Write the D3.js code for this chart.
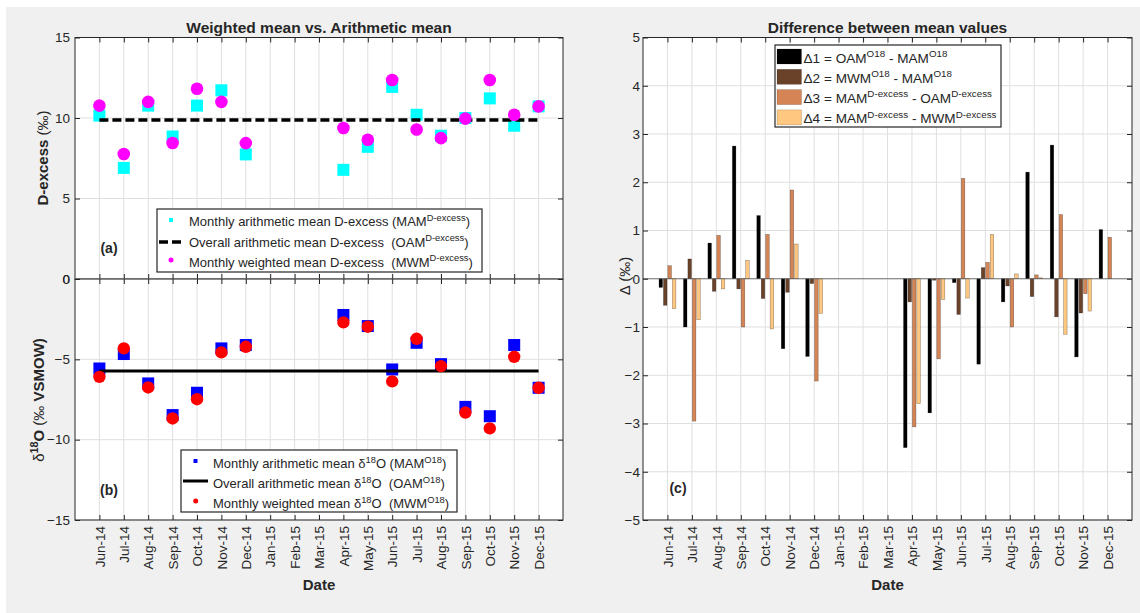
<!DOCTYPE html>
<html lang="en">
<head>
<meta charset="utf-8">
<title>Weighted mean vs. Arithmetic mean</title>
<script src="https://d3js.org/d3.v7.min.js"></script>
<style>
  body { margin: 0; background: #fff; }
  text { font-family: "Liberation Sans", Arial, Helvetica, sans-serif; fill: #262626; }
</style>
</head>
<body>
<script>
// month categories (Jan-Mar 2015 have no samples)
var months = ["Jun-14","Jul-14","Aug-14","Sep-14","Oct-14","Nov-14","Dec-14","Jan-15","Feb-15","Mar-15",
              "Apr-15","May-15","Jun-15","Jul-15","Aug-15","Sep-15","Oct-15","Nov-15","Dec-15"];

// (a) D-excess
var mamDex = [10.15, 6.9, 10.77, 8.85, 10.77, 11.72, 7.74, null, null, null, 6.78, 8.21, 11.93, 10.2, 8.9, 10.0, 11.22, 9.52, 10.72];
var mwmDex = [10.77, 7.76, 11.0, 8.45, 11.82, 11.0, 8.44, null, null, null, 9.38, 8.65, 12.36, 9.29, 8.75, 9.96, 12.36, 10.2, 10.72];
var oamDex = 9.87;

// (b) d18O
var mamO18 = [-5.57, -4.67, -6.5, -8.47, -7.08, -4.32, -4.11, null, null, null, -2.24, -2.93, -5.63, -3.97, -5.3, -7.96, -8.54, -4.11, -6.77];
var mwmO18 = [-6.09, -4.32, -6.75, -8.68, -7.48, -4.57, -4.22, null, null, null, -2.7, -2.97, -6.37, -3.72, -5.42, -8.31, -9.3, -4.84, -6.77];
var oamO18 = -5.73;

// (c) differences
var d1 = [-0.18, -1.0, 0.74, 2.75, 1.31, -1.45, -1.61, null, null, null, -3.5, -2.78, -0.08, -1.77, -0.48, 2.21, 2.77, -1.62, 1.02];
var d2 = [-0.55, 0.41, -0.26, -0.21, -0.41, -0.28, -0.1, null, null, null, -0.48, -0.03, -0.74, 0.23, -0.15, -0.37, -0.79, -0.71, 0];
var d3v = [0.27, -2.95, 0.9, -1.0, 0.92, 1.84, -2.12, null, null, null, -3.07, -1.66, 2.08, 0.34, -1.0, 0.08, 1.33, -0.31, 0.86];
var d4 = [-0.62, -0.85, -0.21, 0.38, -1.04, 0.72, -0.72, null, null, null, -2.59, -0.43, -0.4, 0.92, 0.1, 0.02, -1.15, -0.67, 0];
var deltas = [d1, d2, d3v, d4];
var copper = ["#000000", "#6a422a", "#d58555", "#ffc77f"];

var ticksA = [0, 5, 10, 15];
var ticksB = [-15, -10, -5, 0];
var ticksC = [-5, -4, -3, -2, -1, 0, 1, 2, 3, 4, 5];

var W = 1140, H = 613;
var ink = "#262626", gridCol = "#dfdfdf";

var svg = d3.select("body").append("svg").attr("width", W).attr("height", H);
svg.append("rect").attr("x", 6).attr("y", 7).attr("width", W - 6).attr("height", H - 7).attr("fill", "#f0f0f0");

// text with superscripts: parts = [[text, kind]] kind: n normal, b bold, ^ superscript
function rich(g, x, y, parts, size, anchor, rotate) {
  var t = g.append("text").attr("x", x).attr("y", y).attr("font-size", size)
    .attr("text-anchor", anchor || "start").style("white-space", "pre");
  if (rotate) t.attr("transform", "rotate(-90," + x + "," + y + ")");
  var up = 0;
  parts.forEach(function (p) {
    var sup = p[1].indexOf("^") >= 0;
    var dy = sup ? -0.42 * size : 0;
    var ts = t.append("tspan").text(p[0]).attr("dy", dy - up);
    up = dy;
    if (sup) ts.attr("font-size", size * 0.72);
    ts.attr("font-weight", p[1].indexOf("b") >= 0 ? "bold" : "normal");
  });
  return t;
}

var xL = d3.scaleLinear().domain([-1, months.length]).range([75, 563]);
var xR = d3.scaleLinear().domain([-1, months.length]).range([643, 1132]);
var yA = d3.scaleLinear().domain([0, 15]).range([279, 37.5]);
var yB = d3.scaleLinear().domain([-15, 0]).range([520, 279]);
var yC = d3.scaleLinear().domain([-5, 5]).range([520, 37.5]);
var idx = d3.range(months.length);

function panel(x, y, yt) {
  var g = svg.append("g");
  var x0 = x.range()[0], x1 = x.range()[1], y0 = y.range()[1], y1 = y.range()[0];
  g.append("rect").attr("x", x0).attr("y", y0).attr("width", x1 - x0).attr("height", y1 - y0).attr("fill", "#fff");
  g.selectAll(".gx").data(idx).enter().append("line")
    .attr("x1", function (d) { return x(d); }).attr("x2", function (d) { return x(d); })
    .attr("y1", y0).attr("y2", y1).attr("stroke", gridCol);
  g.selectAll(".gy").data(yt).enter().append("line")
    .attr("y1", function (d) { return y(d); }).attr("y2", function (d) { return y(d); })
    .attr("x1", x0).attr("x2", x1).attr("stroke", gridCol);
  return g;
}

function frame(x, y, yt, fmtX, tickEnd) {
  var g = svg.append("g");
  var x0 = x.range()[0], x1 = x.range()[1], y0 = y.range()[1], y1 = y.range()[0];
  var ax = g.append("g").attr("transform", "translate(0," + y1 + ")")
    .call(d3.axisBottom(x).tickValues(idx).tickSize(-5).tickSizeOuter(0)
      .tickFormat(function (i) { return fmtX ? months[i] : ""; }));
  ax.selectAll("text").attr("transform", "rotate(-90)").attr("x", -6).attr("y", 0)
    .attr("dy", "0.35em").attr("text-anchor", "end").attr("font-size", 13.5).attr("fill", ink);
  g.append("g").attr("transform", "translate(0," + y0 + ")")
    .call(d3.axisTop(x).tickValues(idx).tickSize(-5).tickSizeOuter(0).tickFormat(""));
  var ay = g.append("g").attr("transform", "translate(" + x0 + ",0)")
    .call(d3.axisLeft(y).tickValues(yt).tickSize(-5).tickSizeOuter(0).tickPadding(tickEnd));
  ay.selectAll("text").attr("font-size", 13.5).attr("fill", ink);
  g.append("g").attr("transform", "translate(" + x1 + ",0)")
    .call(d3.axisRight(y).tickValues(yt).tickSize(-5).tickSizeOuter(0).tickFormat(""));
  g.selectAll(".domain").remove();
  g.selectAll(".tick line").attr("stroke", ink);
  g.selectAll("text").attr("font-family", null);
  g.append("rect").attr("x", x0).attr("y", y0).attr("width", x1 - x0).attr("height", y1 - y0)
    .attr("fill", "none").attr("stroke", ink).attr("stroke-width", 1);
}

// ---- (a) D-excess
var gA = panel(xL, yA, ticksA);
gA.selectAll(".sq").data(idx.filter(function (i) { return mamDex[i] != null; })).enter().append("rect")
  .attr("x", function (i) { return xL(i) - 6; }).attr("y", function (i) { return yA(mamDex[i]) - 6; })
  .attr("width", 12).attr("height", 12).attr("fill", "#00ffff");
gA.append("line").attr("x1", xL(0)).attr("x2", xL(months.length - 1))
  .attr("y1", yA(oamDex)).attr("y2", yA(oamDex))
  .attr("stroke", "#000").attr("stroke-width", 3.5).attr("stroke-dasharray", "9,4");
gA.selectAll(".ci").data(idx.filter(function (i) { return mwmDex[i] != null; })).enter().append("circle")
  .attr("cx", function (i) { return xL(i); }).attr("cy", function (i) { return yA(mwmDex[i]); })
  .attr("r", 6.3).attr("fill", "#ff00ff");
frame(xL, yA, ticksA, false, 5);

// ---- (b) d18O
var gB = panel(xL, yB, ticksB);
gB.selectAll(".sq").data(idx.filter(function (i) { return mamO18[i] != null; })).enter().append("rect")
  .attr("x", function (i) { return xL(i) - 6; }).attr("y", function (i) { return yB(mamO18[i]) - 6; })
  .attr("width", 12).attr("height", 12).attr("fill", "#0000ff");
gB.append("line").attr("x1", xL(0)).attr("x2", xL(months.length - 1))
  .attr("y1", yB(oamO18)).attr("y2", yB(oamO18)).attr("stroke", "#000").attr("stroke-width", 3);
gB.selectAll(".ci").data(idx.filter(function (i) { return mwmO18[i] != null; })).enter().append("circle")
  .attr("cx", function (i) { return xL(i); }).attr("cy", function (i) { return yB(mwmO18[i]); })
  .attr("r", 6.2).attr("fill", "#ff0000");
frame(xL, yB, ticksB, true, 5);

// ---- (c) bars
var gC = panel(xR, yC, ticksC);
var step = xR(1) - xR(0), slot = 0.727 * step / 4, bw = 0.8 * slot;
deltas.forEach(function (arr, k) {
  gC.selectAll(".b" + k).data(idx.filter(function (i) { return arr[i] != null && arr[i] !== 0; })).enter().append("rect")
    .attr("x", function (i) { return xR(i) + (k - 1.5) * slot - bw / 2; })
    .attr("y", function (i) { return yC(Math.max(0, arr[i])); })
    .attr("width", bw)
    .attr("height", function (i) { return Math.abs(yC(arr[i]) - yC(0)); })
    .attr("fill", copper[k]).attr("stroke", "#000").attr("stroke-opacity", 0.45).attr("stroke-width", 0.5);
});
gC.append("line").attr("x1", xR.range()[0]).attr("x2", xR.range()[1])
  .attr("y1", yC(0)).attr("y2", yC(0)).attr("stroke", "#555").attr("stroke-width", 0.8);
frame(xR, yC, ticksC, true, 3);

// ---- titles and labels
svg.append("text").attr("x", 319).attr("y", 33).attr("text-anchor", "middle")
  .attr("font-size", 15.5).attr("font-weight", "bold").attr("fill", "#000").text("Weighted mean vs. Arithmetic mean");
svg.append("text").attr("x", 887.5).attr("y", 33).attr("text-anchor", "middle")
  .attr("font-size", 15.5).attr("font-weight", "bold").attr("fill", "#000").text("Difference between mean values");
svg.append("text").attr("x", 319).attr("y", 590).attr("text-anchor", "middle")
  .attr("font-size", 15).attr("font-weight", "bold").text("Date");
svg.append("text").attr("x", 887.5).attr("y", 590).attr("text-anchor", "middle")
  .attr("font-size", 15).attr("font-weight", "bold").text("Date");

rich(svg, 48, 158, [["D-excess ", "b"], ["(\u2030)", "n"]], 15, "middle", true);
rich(svg, 44, 400, [["\u03b4", "n"], ["18", "b^"], ["O ", "b"], ["(\u2030 ", "n"], ["VSMOW)", "b"]], 15, "middle", true);
rich(svg, 630, 276, [["\u0394 (\u2030)", "n"]], 15, "middle", true);

svg.append("text").attr("x", 109).attr("y", 253).attr("text-anchor", "middle").attr("font-size", 14).attr("font-weight", "bold").text("(a)");
svg.append("text").attr("x", 109).attr("y", 495).attr("text-anchor", "middle").attr("font-size", 14).attr("font-weight", "bold").text("(b)");
svg.append("text").attr("x", 678).attr("y", 493).attr("text-anchor", "middle").attr("font-size", 14).attr("font-weight", "bold").text("(c)");

// ---- legend (a)
var la = svg.append("g");
la.append("rect").attr("x", 157).attr("y", 209).attr("width", 325).attr("height", 63)
  .attr("fill", "#fff").attr("stroke", ink).attr("stroke-width", 1.2);
la.append("rect").attr("x", 169).attr("y", 218).attr("width", 4).attr("height", 4).attr("fill", "#00ffff");
la.append("line").attr("x1", 159).attr("x2", 181).attr("y1", 242).attr("y2", 242)
  .attr("stroke", "#000").attr("stroke-width", 3.5).attr("stroke-dasharray", "9,4");
la.append("circle").attr("cx", 171).attr("cy", 260).attr("r", 2.5).attr("fill", "#ff00ff");
rich(la, 189, 226, [["Monthly arithmetic mean D-excess (MAM", "n"], ["D-excess", "^"], [")", "n"]], 13);
rich(la, 189, 246.5, [["Overall arithmetic mean D-excess  (OAM", "n"], ["D-excess", "^"], [")", "n"]], 13);
rich(la, 189, 266.5, [["Monthly weighted mean D-excess  (MWM", "n"], ["D-excess", "^"], [")", "n"]], 13);

// ---- legend (b)
var lb = svg.append("g");
lb.append("rect").attr("x", 181).attr("y", 450).attr("width", 276).attr("height", 62)
  .attr("fill", "#fff").attr("stroke", ink).attr("stroke-width", 1.2);
lb.append("rect").attr("x", 193.5).attr("y", 459).attr("width", 4).attr("height", 4).attr("fill", "#0000ff");
lb.append("line").attr("x1", 183).attr("x2", 208).attr("y1", 481).attr("y2", 481)
  .attr("stroke", "#000").attr("stroke-width", 3);
lb.append("circle").attr("cx", 195.7).attr("cy", 501).attr("r", 2.5).attr("fill", "#ff0000");
rich(lb, 213, 468, [["Monthly arithmetic mean \u03b4", "n"], ["18", "^"], ["O (MAM", "n"], ["O18", "^"], [")", "n"]], 13);
rich(lb, 213, 488, [["Overall arithmetic mean \u03b4", "n"], ["18", "^"], ["O  (OAM", "n"], ["O18", "^"], [")", "n"]], 13);
rich(lb, 213, 508, [["Monthly weighted mean \u03b4", "n"], ["18", "^"], ["O  (MWM", "n"], ["O18", "^"], [")", "n"]], 13);

// ---- legend (c)
var lc = svg.append("g");
lc.append("rect").attr("x", 775).attr("y", 45).attr("width", 226).attr("height", 82)
  .attr("fill", "#fff").attr("stroke", ink).attr("stroke-width", 1.2);
var legC = [
  [["\u03941 = OAM", "n"], ["O18", "^"], [" - MAM", "n"], ["O18", "^"]],
  [["\u03942 = MWM", "n"], ["O18", "^"], [" - MAM", "n"], ["O18", "^"]],
  [["\u03943 = MAM", "n"], ["D-excess", "^"], [" - OAM", "n"], ["D-excess", "^"]],
  [["\u03944 = MAM", "n"], ["D-excess", "^"], [" - MWM", "n"], ["D-excess", "^"]]
];
legC.forEach(function (parts, k) {
  var cy = 56.5 + k * 20.3;
  lc.append("rect").attr("x", 777).attr("y", cy - 7.5).attr("width", 24.5).attr("height", 15)
    .attr("fill", copper[k]).attr("stroke", "#000").attr("stroke-opacity", 0.3).attr("stroke-width", 0.5);
  rich(lc, 803.5, cy + 6, parts, 13.6);
});
</script>
</body>
</html>
